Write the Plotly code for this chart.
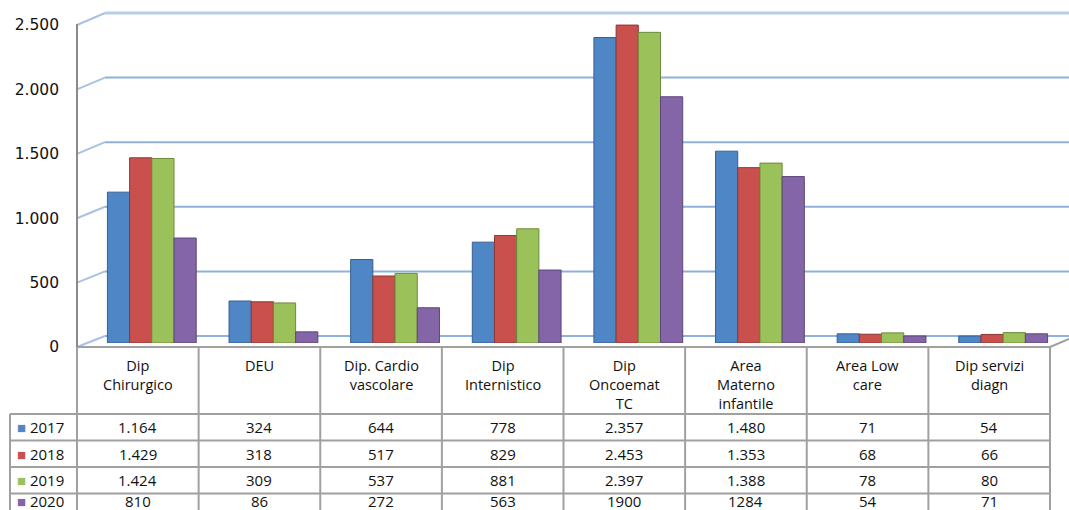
import plotly.graph_objects as go

W, H = 1069, 510

categories = ["Dip Chirurgico", "DEU", "Dip. Cardio vascolare", "Dip Internistico",
              "Dip Oncoemat TC", "Area Materno infantile", "Area Low care", "Dip servizi diagn"]
header_labels = ["Dip<br>Chirurgico", "DEU", "Dip. Cardio<br>vascolare", "Dip<br>Internistico",
                 "Dip<br>Oncoemat<br>TC", "Area<br>Materno<br>infantile", "Area Low<br>care", "Dip servizi<br>diagn"]
years = ["2017", "2018", "2019", "2020"]
v2017 = [1164, 324, 644, 778, 2357, 1480, 71, 54]
v2018 = [1429, 318, 517, 829, 2453, 1353, 68, 66]
v2019 = [1424, 309, 537, 881, 2397, 1388, 78, 80]
v2020 = [810, 86, 272, 563, 1900, 1284, 54, 71]
t2017 = ["1.164", "324", "644", "778", "2.357", "1.480", "71", "54"]
t2018 = ["1.429", "318", "517", "829", "2.453", "1.353", "68", "66"]
t2019 = ["1.424", "309", "537", "881", "2.397", "1.388", "78", "80"]
t2020 = ["810", "86", "272", "563", "1900", "1284", "54", "71"]
tick_vals = [0, 500, 1000, 1500, 2000, 2500]
tick_text = ["0", "500", "1.000", "1.500", "2.000", "2.500"]

colors = ["#4f86c6", "#c9504d", "#9bc25a", "#8466a8"]
edge = ["#365f91", "#8c3836", "#6c8a3a", "#5c4778"]

values = [v2017, v2018, v2019, v2020]
texts = [t2017, t2018, t2019, t2020]


def px(x):
    return x / W


def py(y):
    return 1 - y / H


fig = go.Figure()
for i, yr in enumerate(years):
    fig.add_trace(go.Bar(x=categories, y=values[i], name=yr,
                         marker=dict(color=colors[i], line=dict(color=edge[i], width=1)),
                         showlegend=False, xaxis="x", yaxis="y", hoverinfo="y"))
fig.add_trace(go.Scatter(x=[None], y=[None], xaxis="x2", yaxis="y2", showlegend=False))

shapes = []
for v in tick_vals:
    yb = 336 - v * 323 / 2500
    yf = 347 - v * 322 / 2500
    col = "#b8cde6" if v == 2500 else "#8fb1dc"
    wid = 3 if v == 2500 else 2
    shapes.append(dict(type="line", xref="paper", yref="paper", x0=px(105), x1=px(1069),
                       y0=py(yb), y1=py(yb), line=dict(color=col, width=wid), layer="below"))
    shapes.append(dict(type="line", xref="paper", yref="paper", x0=px(77), x1=px(105),
                       y0=py(yf), y1=py(yb), line=dict(color="#a9c2e2", width=2), layer="below"))

grey = "#a0a0a0"
col_edges = [77 + i * (1050 - 77) / 8 for i in range(9)]
row_edges = [414, 440.5, 467, 493.5, 520]
shapes.append(dict(type="line", xref="paper", yref="paper", x0=px(77), x1=px(1050),
                   y0=py(347), y1=py(347), line=dict(color=grey, width=2)))
shapes.append(dict(type="line", xref="paper", yref="paper", x0=px(1050), x1=px(1069),
                   y0=py(347), y1=py(339), line=dict(color=grey, width=2)))
for r in row_edges[:-1]:
    shapes.append(dict(type="line", xref="paper", yref="paper", x0=px(10), x1=px(1050),
                       y0=py(r), y1=py(r), line=dict(color=grey, width=2)))
for c in col_edges:
    shapes.append(dict(type="line", xref="paper", yref="paper", x0=px(c), x1=px(c),
                       y0=py(347), y1=py(H + 5), line=dict(color=grey, width=2)))
shapes.append(dict(type="line", xref="paper", yref="paper", x0=px(10), x1=px(10),
                   y0=py(414), y1=py(H + 5), line=dict(color=grey, width=2)))
shapes.append(dict(type="line", xref="paper", yref="paper", x0=px(77), x1=px(77),
                   y0=py(24), y1=py(347), line=dict(color="#8a8a8a", width=2)))

annotations = []
font_h = dict(family="Open Sans", size=14.5, color="#111")
font_t = dict(family="Open Sans", size=15, color="#111")
for j, lab in enumerate(header_labels):
    cx = (col_edges[j] + col_edges[j + 1]) / 2
    annotations.append(dict(x=px(cx), y=py(354), xref="paper", yref="paper", text=lab,
                            showarrow=False, xanchor="center", yanchor="top", font=font_h,
                            align="center"))
for i, yr in enumerate(years):
    cy = (row_edges[i] + row_edges[i + 1]) / 2
    if i == 3:
        cy = 501
    annotations.append(dict(x=px(15), y=py(cy), xref="paper", yref="paper",
                            text=f'<span style="color:{colors[i]}">■</span> {yr}',
                            showarrow=False, xanchor="left", yanchor="middle", font=font_t))
    for j in range(8):
        cx = (col_edges[j] + col_edges[j + 1]) / 2
        annotations.append(dict(x=px(cx), y=py(cy), xref="paper", yref="paper", text=texts[i][j],
                                showarrow=False, xanchor="center", yanchor="middle", font=font_t))

fig.update_layout(
    template="none",
    width=W, height=H, margin=dict(l=0, r=0, t=0, b=0, pad=0, autoexpand=False),
    paper_bgcolor="white", plot_bgcolor="rgba(0,0,0,0)",
    barmode="group", bargap=0.27, bargroupgap=0.0,
    xaxis=dict(domain=[px(91), px(1064)], range=[-0.5, 7.5], visible=False, fixedrange=True,
               automargin=False),
    yaxis=dict(domain=[py(343), py(19)], range=[0, 2500], visible=False, fixedrange=True,
               automargin=False),
    xaxis2=dict(domain=[px(77), px(1050)], range=[0, 1], visible=False, anchor="y2",
                automargin=False),
    yaxis2=dict(domain=[py(347), py(25)], range=[0, 2500], anchor="x2", automargin=False,
                tickvals=tick_vals, ticktext=tick_text, showgrid=False, zeroline=False,
                showline=False, ticks="", ticklabelstandoff=17,
                tickfont=dict(family="DejaVu Sans", size=15.5, color="#111")),
    shapes=shapes, annotations=annotations,
)

fig.write_html("out.html")
